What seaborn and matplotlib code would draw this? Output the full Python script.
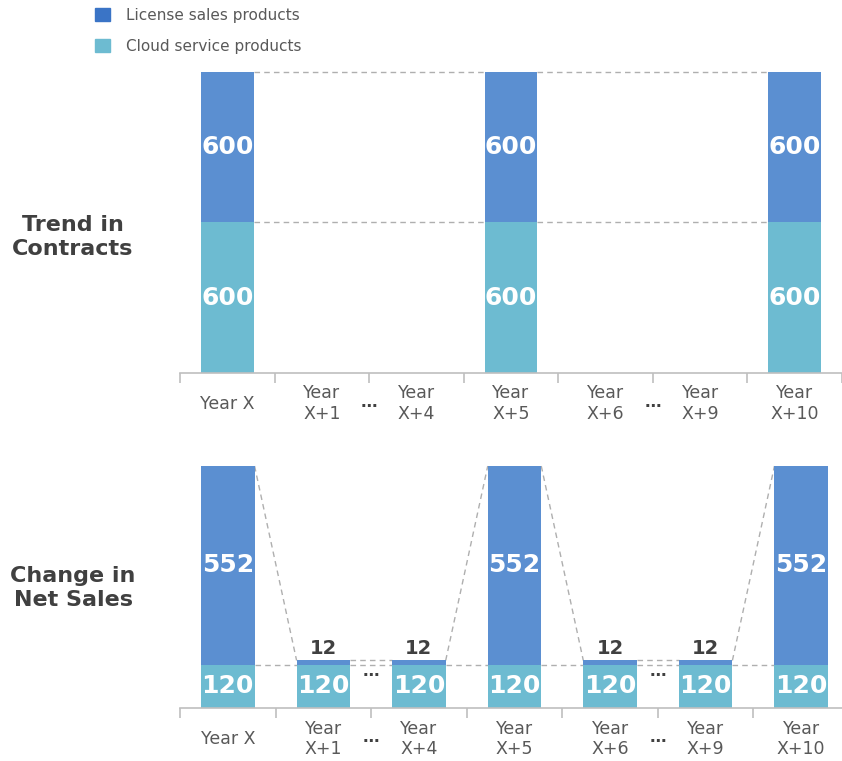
import numpy as np
import pandas as pd
import matplotlib
matplotlib.use('Agg')
import matplotlib.pyplot as plt
import seaborn as sns
from matplotlib.patches import Patch

sns.set_style('white')
plt.rcParams['font.family'] = ['DejaVu Sans']

categories = ['Year X', 'Year\nX+1', 'Year\nX+4', 'Year\nX+5', 'Year\nX+6', 'Year\nX+9', 'Year\nX+10']
contract_license = [600, 0, 0, 600, 0, 0, 600]
contract_cloud = [600, 0, 0, 600, 0, 0, 600]
sales_license = [552, 12, 12, 552, 12, 12, 552]
sales_cloud = [120, 120, 120, 120, 120, 120, 120]
gap_after = [1, 4]  # "..." between these positions and the next

BLUE = '#5B8FD1'
CYAN = '#6DBBD1'
GRID = '#BFBFBF'
TXT = '#595959'
W = 0.56

fig = plt.figure(figsize=(8.42, 7.61), dpi=100)
ax1 = fig.add_axes([0.2138, 0.5099, 0.7862, 0.3955])
ax2 = fig.add_axes([0.2138, 0.0696, 0.7945, 0.3180])


def draw(ax, lic, cloud, ymax, ell_in_plot):
    total = [a + b for a, b in zip(lic, cloud)]
    sns.barplot(x=categories, y=total, order=categories, color=BLUE, saturation=1,
                width=W, linewidth=0, ax=ax)
    sns.barplot(x=categories, y=cloud, order=categories, color=CYAN, saturation=1,
                width=W, linewidth=0, ax=ax)
    ax.set_ylim(0, ymax)
    ax.set_xlim(-0.5, len(categories) - 0.5)
    ax.set_yticks([])
    ax.set_ylabel('')
    for s in ['top', 'right', 'left']:
        ax.spines[s].set_visible(False)
    ax.spines['bottom'].set_color(GRID)
    ax.spines['bottom'].set_linewidth(1.2)

    # series lines between neighbouring bars
    idx = [i for i, t in enumerate(total) if t > 0]
    for i, j in zip(idx[:-1], idx[1:]):
        for vals in (cloud, total):
            ax.plot([i + W / 2, j - W / 2], [vals[i], vals[j]], color='#AFAFAF',
                    lw=1, ls=(0, (4, 3)), zorder=0.5, clip_on=False)

    # value labels
    for i in idx:
        ax.text(i, cloud[i] / 2, f'{cloud[i]}', ha='center', va='center',
                color='white', fontsize=18, fontweight='bold', zorder=5)
        if lic[i] > 50:
            ax.text(i, cloud[i] + lic[i] / 2, f'{lic[i]}', ha='center', va='center',
                    color='white', fontsize=18, fontweight='bold', zorder=5)
        else:
            ax.text(i, total[i] + 8 * ymax / 672, f'{lic[i]}', ha='center', va='bottom',
                    color='#404040', fontsize=14, fontweight='bold', zorder=5)

    # ticks: labels at centres, marks at boundaries
    ax.set_xticks(range(len(categories)))
    ax.set_xticklabels(categories, fontsize=12.5, color=TXT, va='center',
                       multialignment='center', linespacing=1.15)
    ax.tick_params(axis='x', which='major', bottom=True, length=0, pad=22)
    ax.set_xticks(np.arange(-0.5, len(categories)), minor=True)
    ax.tick_params(axis='x', which='minor', bottom=True, length=7.5, width=1.2,
                   color=GRID, direction='out')
    ax.set_xlabel('')

    for g in gap_after:
        ax.annotate('…', xy=(g + 0.5, 0), xycoords=('data', 'axes fraction'),
                    xytext=(0, -34), textcoords='offset pixels', ha='center',
                    va='baseline', fontsize=12, fontweight='bold', color='#404040')
        if ell_in_plot:
            ax.text(g + 0.5, 88, '…', ha='center', va='baseline', fontsize=12,
                    fontweight='bold', color='#404040')


draw(ax1, contract_license, contract_cloud, 1200, False)
draw(ax2, sales_license, sales_cloud, 672, True)

fig.text(73 / 842, 1 - 237 / 761, 'Trend in\nContracts', ha='center', va='center',
         fontsize=16, fontweight='bold', color='#404040', linespacing=1.3)
fig.text(73 / 842, 1 - 588 / 761, 'Change in\nNet Sales', ha='center', va='center',
         fontsize=16, fontweight='bold', color='#404040', linespacing=1.3)

handles = [Patch(color='#3A74C6', label='License sales products'),
           Patch(color=CYAN, label='Cloud service products')]
fig.legend(handles=handles, loc='upper left', bbox_to_anchor=(0.113, 0.99),
           frameon=False, fontsize=11, handlelength=1.0, handleheight=1.0,
           handletextpad=1.0, labelspacing=1.05, borderaxespad=0, borderpad=0,
           labelcolor=TXT)

fig.savefig('out.png', dpi=100)
